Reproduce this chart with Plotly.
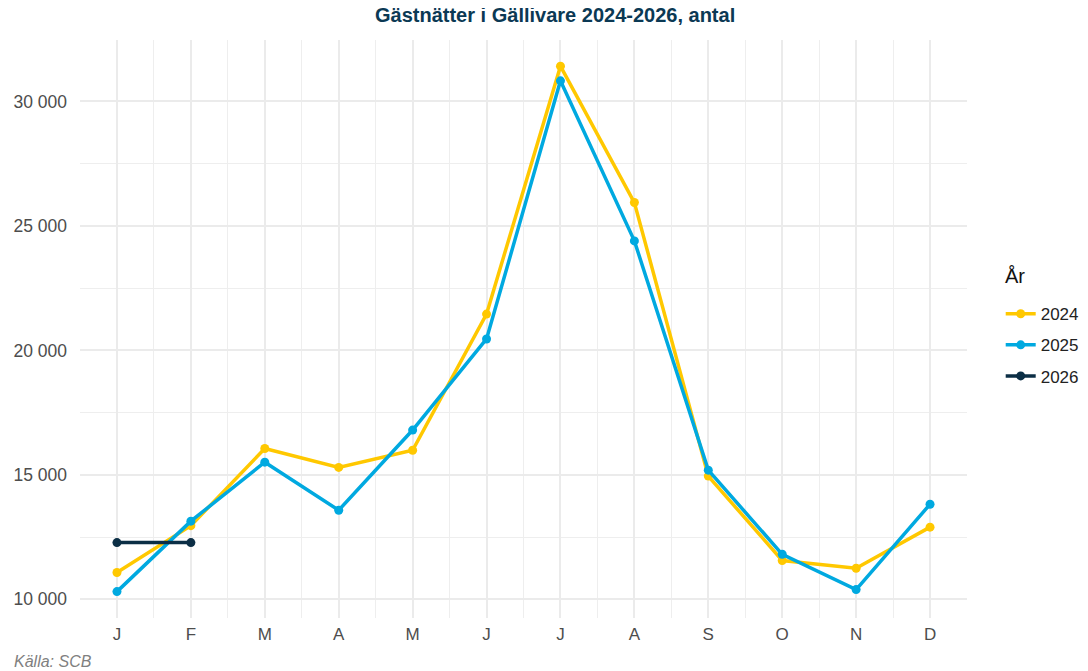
import plotly.graph_objects as go

months = ["J", "F", "M", "A", "M", "J", "J", "A", "S", "O", "N", "D"]
month_pos = list(range(1, 13))
y2024 = [11080, 12960, 16060, 15300, 15990, 21460, 31420, 25940, 14950, 11560, 11250, 12900]
y2025 = [10310, 13140, 15510, 13580, 16800, 20460, 30830, 24400, 15190, 11810, 10390, 13820]
y2026 = [12280, 12280]
years = ["2024", "2025", "2026"]
colors = ["#FFC800", "#00A9E0", "#0B2E45"]
y_ticks = [10000, 15000, 20000, 25000, 30000]
y_tick_text = ["10 000", "15 000", "20 000", "25 000", "30 000"]

fig = go.Figure()
for name, vals, col in zip(years, [y2024, y2025, y2026], colors):
    fig.add_trace(go.Scatter(
        x=month_pos[:len(vals)], y=vals, name=name, mode="lines+markers",
        legendgroup=name,
        line=dict(color=col, width=3.5), marker=dict(color=col, size=9),
    ))

fig.update_layout(
    width=1088, height=671,
    paper_bgcolor="white", plot_bgcolor="white",
    margin=dict(l=72, r=129, t=32, b=61, autoexpand=False),
    font=dict(family="Liberation Sans, Arial, sans-serif", color="#4D4D4D", size=13),
    legend=dict(x=1.038, xanchor="left", y=0.472, yanchor="middle",
                font=dict(size=17, color="#222222"), tracegroupgap=6, itemwidth=30),
    showlegend=True,
)
fig.update_xaxes(
    range=[0.5, 12.5], tickmode="array", tickvals=month_pos, ticktext=months, automargin=False,
    showgrid=True, gridcolor="#EBEBEB", gridwidth=1.5, zeroline=False,
    minor=dict(tickmode="array", tickvals=[i + 0.5 for i in range(0, 13)], showgrid=True, gridcolor="#EEEEEE", gridwidth=1),
    tickfont=dict(size=17, color="#4D4D4D"), ticks="", ticklabelstandoff=4,
)
fig.update_yaxes(
    range=[9250, 32470], tickmode="array", tickvals=y_ticks, ticktext=y_tick_text, automargin=False,
    showgrid=True, gridcolor="#EBEBEB", gridwidth=1.5, zeroline=False,
    minor=dict(tickmode="array", tickvals=[7500 + 5000 * i for i in range(6)], showgrid=True, gridcolor="#EEEEEE", gridwidth=1),
    tickfont=dict(size=17.5, color="#4D4D4D"), ticks="", ticklabelstandoff=12,
)
fig.add_annotation(text="<b>Gästnätter i Gällivare 2024-2026, antal</b>", xref="paper", yref="paper",
                   x=0.5355, y=1.0433, xanchor="center", yanchor="middle", showarrow=False,
                   font=dict(size=20, color="#0B3954"))
fig.add_annotation(text="År", xref="paper", yref="paper", x=1.0406, y=0.592,
                   xanchor="left", yanchor="middle", showarrow=False,
                   font=dict(size=20, color="#111111"))
fig.add_annotation(text="<i>Källa: SCB</i>", xref="paper", yref="paper", x=-0.0766, y=-0.0744,
                   xanchor="left", yanchor="middle", showarrow=False,
                   font=dict(size=16, color="#808080"))

fig.write_html("out.html")
